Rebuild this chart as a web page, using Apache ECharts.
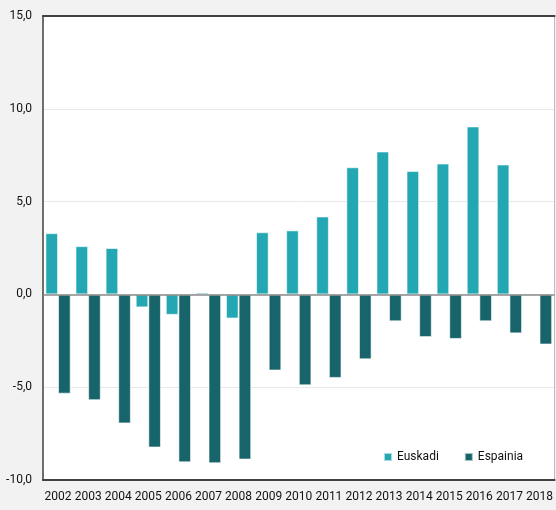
<!DOCTYPE html>
<html>
<head>
<meta charset="utf-8">
<script src="https://cdn.jsdelivr.net/npm/echarts@6/dist/echarts.min.js"></script>
<style>
html,body{margin:0;padding:0;background:#f2f2f2;}
#chart{width:556px;height:510px;}
</style>
</head>
<body>
<div id="chart"></div>
<script>
const years = ['2002','2003','2004','2005','2006','2007','2008','2009','2010','2011','2012','2013','2014','2015','2016','2017','2018'];
const euskadi = [3.3, 2.6, 2.5, -0.7, -1.1, 0.1, -1.3, 3.35, 3.45, 4.2, 6.85, 7.7, 6.65, 7.05, 9.05, 7.0, null];
const espainia = [-5.35, -5.7, -6.95, -8.25, -9.05, -9.1, -8.9, -4.1, -4.9, -4.5, -3.5, -1.45, -2.3, -2.4, -1.45, -2.1, -2.7];
const yTicks = {min: -10, max: 15, interval: 5};

const font = 'Roboto';
const chart = echarts.init(document.getElementById('chart'));
chart.setOption({
  backgroundColor: '#f2f2f2',
  animation: false,
  grid: {left: 43, right: 1, top: 16, bottom: 30, show: true, backgroundColor: '#ffffff', borderWidth: 0},
  legend: {
    left: 378, top: 446, itemWidth: 8, itemHeight: 8, itemGap: 25, icon: 'rect',
    textStyle: {fontFamily: font, fontSize: 12, color: '#111'},
    data: ['Euskadi', 'Espainia']
  },
  xAxis: [
    {
      type: 'category', data: years, position: 'bottom',
      axisLine: {onZero: false, lineStyle: {color: '#404040', width: 2}},
      axisTick: {show: false},
      axisLabel: {interval: 0, fontFamily: font, fontSize: 12, color: '#111', margin: 11}
    },
    {
      type: 'category', data: years, position: 'top',
      axisLine: {onZero: false, lineStyle: {color: '#404040', width: 2}},
      axisTick: {show: false}, axisLabel: {show: false}
    }
  ],
  yAxis: [
    {
      type: 'value', min: yTicks.min, max: yTicks.max, interval: yTicks.interval,
      axisLine: {show: true, lineStyle: {color: '#404040', width: 1.5}},
      axisTick: {show: false},
      splitLine: {lineStyle: {color: '#e8e8e8', width: 1}},
      axisLabel: {fontFamily: font, fontSize: 12, color: '#111', margin: 11,
        formatter: v => v.toFixed(1).replace('.', ',')}
    },
    {
      type: 'value', min: yTicks.min, max: yTicks.max, interval: yTicks.interval, position: 'right',
      axisLine: {show: true, lineStyle: {color: '#bfbfbf', width: 1}},
      axisTick: {show: false}, axisLabel: {show: false}, splitLine: {show: false}
    }
  ],
  series: [
    {
      name: 'Euskadi', type: 'bar', data: euskadi, barWidth: '42%', barGap: '0%',
      itemStyle: {color: '#23a7b2', borderColor: 'rgba(255,255,255,0.6)', borderWidth: 1}
    },
    {
      name: 'Espainia', type: 'bar', data: espainia, barWidth: '42%', barGap: '0%',
      itemStyle: {color: '#17646a', borderColor: 'rgba(255,255,255,0.6)', borderWidth: 1},
      markLine: {
        silent: true, symbol: 'none', label: {show: false},
        lineStyle: {color: '#8a8a8a', width: 1.5, type: 'solid'},
        data: [{yAxis: 0}]
      }
    }
  ]
});
</script>
</body>
</html>
